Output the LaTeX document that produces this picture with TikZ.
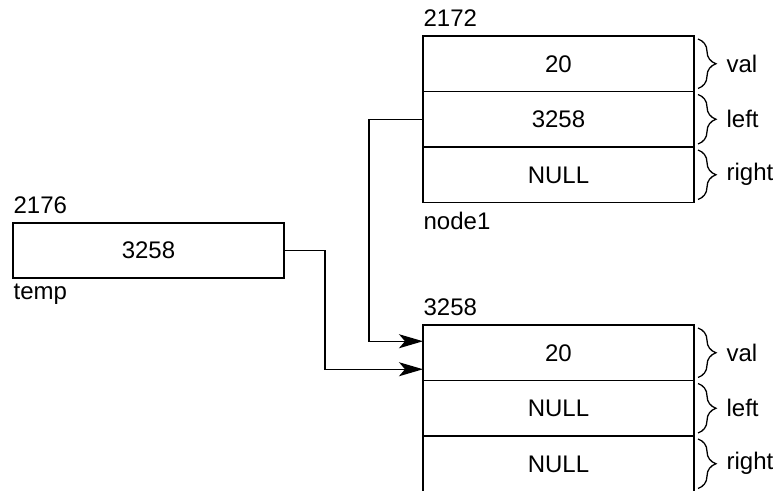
\documentclass[tikz,border=0pt]{standalone}
\usepackage{fontspec}
\setmainfont{Liberation Sans}
\usetikzlibrary{arrows.meta, positioning, decorations.pathreplacing}

\begin{document}
\begin{tikzpicture}[x=0.5pt, y=-0.5pt, line width=0.65pt,
		font=\fontsize{12}{14}\selectfont]

	\tikzset{
		cell/.style={
				draw, minimum width=135.5pt, minimum height=27.75pt, inner sep=0pt, outer sep=0pt, text height=8.5pt, text depth=0pt
			},
		tag/.style={
				inner sep=0pt, anchor=base west
			},
		field/.style={
				decorate, decoration={brace, amplitude=9pt, aspect=0.5}
			},
		link/.style={
				-{Stealth[length=12pt, width=7pt, inset=3pt]}
			},
	}
	\useasboundingbox (0,0) rectangle (778,491);

	% node1 at 2172
	\node[cell, anchor=north west] (a1) at (423,36) {20};
	\node[cell, below=0pt of a1] (a2) {3258};
	\node[cell, below=0pt of a2] (a3) {NULL};
	\node[tag] (addr1) at ([yshift=4.5pt]a1.north west) {2172};
	\node[tag] (name1) at ([yshift=-13.5pt]a3.south west) {node1};

	% new node at 3258
	\node[cell, anchor=north west] (b1) at (423,325) {20};
	\node[cell, below=0pt of b1] (b2) {NULL};
	\node[cell, below=0pt of b2] (b3) {NULL};
	\node[tag] (addr2) at ([yshift=4.5pt]b1.north west) {3258};

	% temp at 2176
	\node[cell, minimum height=27.5pt, anchor=north west] (t1) at (13,223) {3258};
	\node[tag] (addr3) at ([yshift=4.5pt]t1.north west) {2176};
	\node[tag] (name3) at ([yshift=-11pt]t1.south west) {temp};

	\foreach \r/\f in {a1/val, a2/left, a3/right, b1/val, b2/left, b3/right} {
		\draw[field] ([xshift=2pt, yshift=-1.5pt]\r.north east) -- ([xshift=2pt, yshift=1.5pt]\r.south east)
			node[midway, right=14pt, inner sep=0pt] (\r-f) {\f};
	}

	\draw[link] (a2.west) -- ++(-54,0) |- ([yshift=5.75pt]b1.west);
	\draw[link] (t1.east) -- ++(41,0) |- ([yshift=-8.25pt]b1.west);

\end{tikzpicture}
\end{document}
